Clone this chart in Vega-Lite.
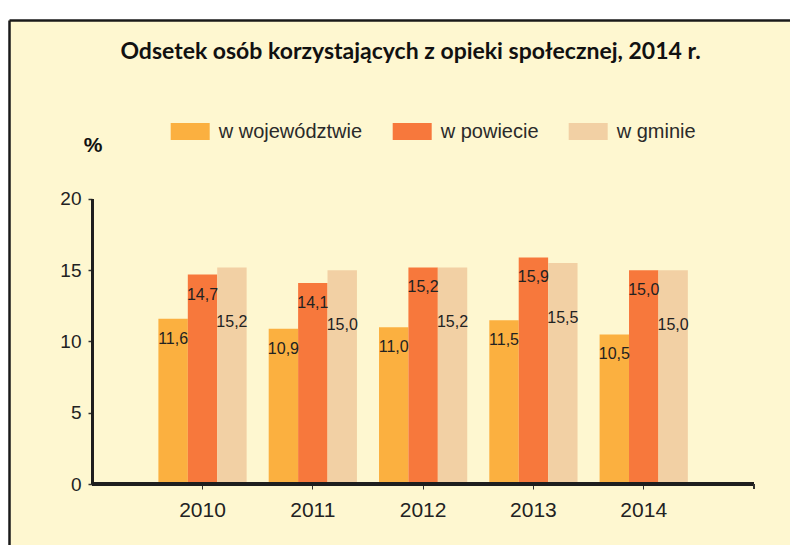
{
  "$schema": "https://vega.github.io/schema/vega-lite/v6.json",
  "autosize": {"type": "none"},
  "width": 781,
  "height": 525,
  "padding": {"left": 9, "top": 20, "right": 0, "bottom": 0},
  "background": "white",
  "title": {
    "text": "Odsetek osób korzystających z opieki społecznej, 2014 r.",
    "font": "Lato",
    "fontSize": 23,
    "fontWeight": "bold",
    "color": "#111111",
    "anchor": "middle",
    "frame": "group",
    "offset": 0,
    "baseline": "middle",
    "dx": 11,
    "dy": 55
  },
  "config": {
    "locale": {"number": {"decimal": ",", "thousands": " ", "grouping": [3], "currency": ["", " zł"]}},
    "view": {"stroke": null, "fill": "#FEF7D0"},
    "axis": {"labelFont": "Liberation Sans", "titleFont": "Liberation Sans", "labelColor": "#222222", "tickColor": "#333333", "grid": false}
  },
  "data": {
    "values": [
      {"year": "2010", "series": "w województwie", "value": 11.6},
      {"year": "2010", "series": "w powiecie", "value": 14.7},
      {"year": "2010", "series": "w gminie", "value": 15.2},
      {"year": "2011", "series": "w województwie", "value": 10.9},
      {"year": "2011", "series": "w powiecie", "value": 14.1},
      {"year": "2011", "series": "w gminie", "value": 15.0},
      {"year": "2012", "series": "w województwie", "value": 11.0},
      {"year": "2012", "series": "w powiecie", "value": 15.2},
      {"year": "2012", "series": "w gminie", "value": 15.2},
      {"year": "2013", "series": "w województwie", "value": 11.5},
      {"year": "2013", "series": "w powiecie", "value": 15.9},
      {"year": "2013", "series": "w gminie", "value": 15.5},
      {"year": "2014", "series": "w województwie", "value": 10.5},
      {"year": "2014", "series": "w powiecie", "value": 15.0},
      {"year": "2014", "series": "w gminie", "value": 15.0}
    ]
  },
  "layer": [
    {
      "encoding": {
        "x": {"field": "year", "type": "ordinal",
              "scale": {"range": [149.4, 678.84], "paddingInner": 0.2, "paddingOuter": 0},
              "axis": {"orient": "bottom", "offset": -61, "domain": false, "tickSize": 5, "tickWidth": 1,
                       "labelFontSize": 21, "labelPadding": 10, "labelAngle": 0, "title": null}},
        "xOffset": {"field": "series", "type": "nominal",
                    "sort": ["w województwie", "w powiecie", "w gminie"],
                    "scale": {"paddingInner": 0, "paddingOuter": 0}},
        "y": {"field": "value", "type": "quantitative",
              "scale": {"domain": [-4.2807, 32.5614], "nice": false, "zero": false},
              "axis": {"orient": "left", "offset": -83, "values": [0, 5, 10, 15, 20], "domain": false,
                       "tickSize": 4, "tickWidth": 1.5, "labelFontSize": 19, "labelPadding": 7,
                       "title": "%", "titleAngle": 0, "titleX": 0.5, "titleY": 125.5,
                       "titleFontSize": 21, "titleFontWeight": "bold", "titleAlign": "center",
                       "titleBaseline": "middle", "titleColor": "#111111"}}
      },
      "layer": [
        {
          "mark": {"type": "bar"},
          "encoding": {
            "y2": {"datum": 0},
            "color": {"field": "series", "type": "nominal",
                      "sort": ["w województwie", "w powiecie", "w gminie"],
                      "scale": {"domain": ["w województwie", "w powiecie", "w gminie"],
                                "range": ["#FBB040", "#F7783C", "#F2D0A4"]},
                      "legend": {"orient": "none", "legendX": 161.7, "legendY": 91.8, "direction": "horizontal",
                                 "columns": 3, "title": null, "padding": 0,
                                 "symbolType": "M-1,-0.436H1V0.436H-1Z", "symbolSize": 1521,
                                 "symbolStrokeWidth": 0, "symbolOpacity": 1,
                                 "labelFont": "Liberation Sans", "labelFontSize": 20, "labelColor": "#2a2a2a",
                                 "labelOffset": 9, "columnPadding": 30, "labelLimit": 300}}
          }
        },
        {
          "transform": [{"filter": "datum.series != 'w gminie'"}],
          "mark": {"type": "text", "font": "Liberation Sans", "fontSize": 16, "color": "#222222",
                   "baseline": "middle", "align": "center", "dy": 20},
          "encoding": {"text": {"field": "value", "type": "quantitative", "format": ".1f"}}
        },
        {
          "transform": [{"filter": "datum.series == 'w gminie'"}],
          "mark": {"type": "text", "font": "Liberation Sans", "fontSize": 16, "color": "#222222",
                   "baseline": "middle", "align": "center", "dy": 55},
          "encoding": {"text": {"field": "value", "type": "quantitative", "format": ".1f"}}
        }
      ]
    },
    {
      "layer": [
        {
          "mark": {"type": "rule", "color": "#1e1e1e", "strokeWidth": 3},
          "encoding": {
            "x": {"datum": 2009, "type": "quantitative",
                  "scale": {"domain": [2008.2457, 2015.3264], "nice": false, "zero": false},
                  "axis": {"orient": "top", "offset": 0, "domain": true, "domainColor": "#1a1a1a",
                           "domainWidth": 2.5, "ticks": false, "labels": false, "title": null}},
            "x2": {"datum": 2015},
            "y": {"datum": 0, "type": "quantitative",
                  "axis": {"orient": "left", "offset": 0, "domain": true, "domainColor": "#1a1a1a",
                           "domainWidth": 2.5, "ticks": false, "labels": false, "title": null}}
          }
        },
        {
          "mark": {"type": "rule", "color": "#1e1e1e", "strokeWidth": 2},
          "encoding": {
            "x": {"datum": 2009, "type": "quantitative"},
            "y": {"datum": 0, "type": "quantitative"},
            "y2": {"datum": 20}
          }
        },
        {
          "mark": {"type": "rule", "color": "#333333", "strokeWidth": 1},
          "encoding": {
            "x": {"datum": 2015, "type": "quantitative"},
            "y": {"datum": 0, "type": "quantitative"},
            "y2": {"datum": -0.35}
          }
        }
      ]
    }
  ],
  "resolve": {"scale": {"x": "independent"}, "axis": {"x": "independent", "y": "independent"}}
}
